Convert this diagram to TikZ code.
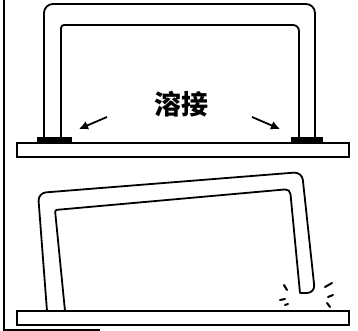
\documentclass[tikz,border=0pt]{standalone}
\usepackage{fontspec}
\newfontfamily\cjk{Noto Sans CJK SC}
\usetikzlibrary{arrows.meta}
\begin{document}
\begin{tikzpicture}[x=1pt,y=-1pt,
  part/.style={line width=1.8pt,line join=round},
  plate/.style={line width=1.7pt},
  weld/.style={fill=black},
  pointer/.style={line width=1.8pt,-{Latex[length=9pt,width=9pt]}},
  spark/.style={line width=2pt,line cap=round}]
\useasboundingbox (0,0) rectangle (358,331);
% frame edge on the left and bottom
\draw[line width=2.8pt] (4,0) -- (4,330) -- (100,330);

% ---- upper panel: frame welded to the base ----
\draw[plate] (17,143) rectangle (349,157);
\draw[part] (44,143) [rounded corners=9pt] -- (44,4) -- (315,4) -- (315,143);
\draw[part] (61,143) [rounded corners=3pt] -- (61,25) [rounded corners=6pt] -- (299,25) [sharp corners] -- (299,143);
\fill[weld] (37,137) rectangle (72,143);
\fill[weld] (291,137) rectangle (323,143);
\coordinate (wl) at (79,129);
\coordinate (wr) at (280,129);
\node[font=\cjk\bfseries\fontsize{27}{27}\selectfont] (label) at (181,104) {溶接};
\draw[pointer] (107,117) -- (wl);
\draw[pointer] (252,117) -- (wr);

% ---- lower panel: frame tilted, one leg lifted ----
\draw[plate] (17,311) rectangle (349,325);
\draw[part] (47,311) [rounded corners=8pt] -- (38,193) -- (302,172) -- (315,293) [sharp corners] -- (300,293) [rounded corners=5pt] -- (290,189) [rounded corners=2pt] -- (55,210) [sharp corners] -- (65,311);
% sparks under the lifted leg
\draw[spark] (284,285) -- (287,290);
\draw[spark] (280,300) -- (285,299);
\draw[spark] (285,305) -- (288,304);
\draw[spark] (325,287) -- (332,283);
\draw[spark] (328,297) -- (333,295);
\draw[spark] (327,303) -- (330,307);
\end{tikzpicture}
\end{document}
